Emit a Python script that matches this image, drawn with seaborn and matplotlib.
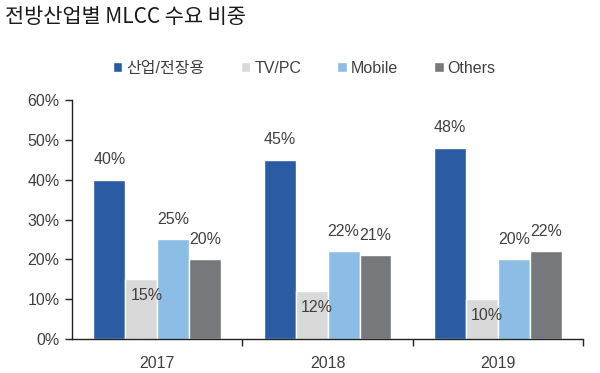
import pandas as pd
import seaborn as sns
import matplotlib.pyplot as plt
from matplotlib.ticker import FixedLocator

years = ['2017', '2018', '2019']
series = ['산업/전장용', 'TV/PC', 'Mobile', 'Others']
industry = [40, 45, 48]
tvpc = [15, 12, 10]
mobile = [25, 22, 20]
others = [20, 21, 22]
colors = ['#2A5BA3', '#D9D9DA', '#8BBDE5', '#77787C']

sns.set_theme(style='white')
plt.rcParams['font.family'] = ['Liberation Sans', 'Noto Sans CJK KR', 'DejaVu Sans']
txt = '#404040'

rows = []
for name, vals in zip(series, [industry, tvpc, mobile, others]):
    for y, v in zip(years, vals):
        rows.append({'year': y, 'series': name, 'value': v})
df = pd.DataFrame(rows)

fig = plt.figure(figsize=(6, 3.73), dpi=100)
ax = fig.add_axes([0.12, 0.091, 0.852, 0.641])
sns.barplot(data=df, x='year', y='value', hue='series', hue_order=series,
            palette=colors, width=0.75, saturation=1, ax=ax, legend=True)

# value labels
for cont, name in zip(ax.containers, series):
    for bar in cont:
        v = bar.get_height()
        cx = bar.get_x() + bar.get_width() / 2
        if name == 'TV/PC':
            ax.text(cx + 0.03, v - 4, f'{v:.0f}%', ha='center', va='center',
                    fontsize=11.5, color=txt)
        else:
            ax.text(cx, v + 5, f'{v:.0f}%', ha='center', va='center',
                    fontsize=11.5, color=txt)

ax.set_ylim(0, 60)
ax.set_xlim(-0.5, 2.5)
ax.set_yticks(range(0, 61, 10))
ax.set_yticklabels([f'{t}%' for t in range(0, 61, 10)], fontsize=11.5, color=txt)
ax.tick_params(axis='y', left=True, length=5, width=1, color='#222222', pad=4)
ax.tick_params(axis='x', which='major', bottom=False, labelsize=11.5,
               labelcolor=txt, pad=6)
ax.xaxis.set_minor_locator(FixedLocator([0.5, 1.5, 2.5]))
ax.tick_params(axis='x', which='minor', bottom=True, length=5, width=1,
               color='#222222')
ax.set_xlabel('')
ax.set_ylabel('')
sns.despine(ax=ax)
for s in ['left', 'bottom']:
    ax.spines[s].set_color('#222222')
    ax.spines[s].set_linewidth(1)

ax.legend(loc='center', bbox_to_anchor=(0.507, 0.817),
          bbox_transform=fig.transFigure, ncol=4, frameon=False,
          handlelength=0.6, handleheight=0.6, handletextpad=0.25,
          columnspacing=2.25, fontsize=11.5, labelcolor=txt)

fig.text(0.008, 0.955, '전방산업별 MLCC 수요 비중', fontsize=15, weight='medium',
         family=['Noto Sans CJK KR'], color='#1a1a1a', va='center')

fig.savefig('out.png', dpi=100)
